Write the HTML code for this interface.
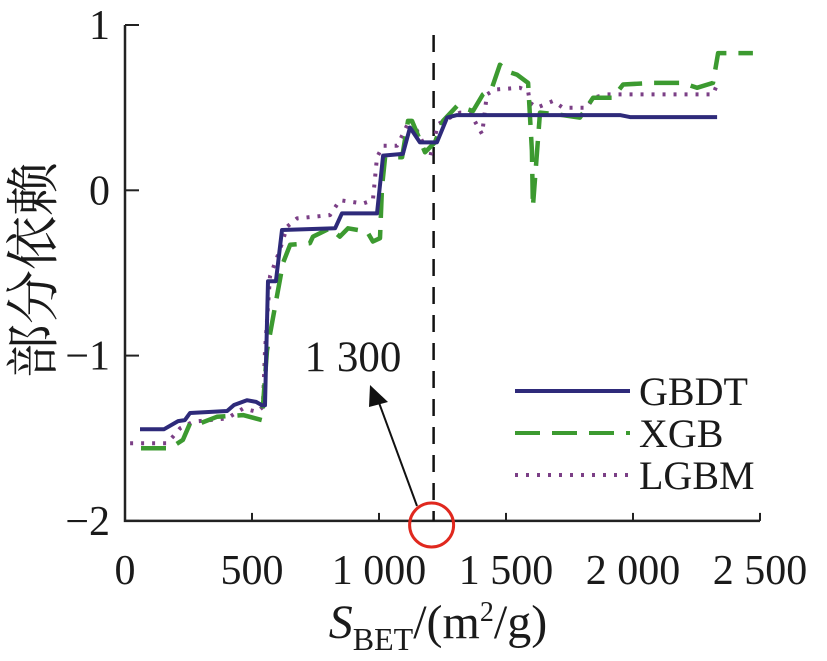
<!DOCTYPE html>
<html><head><meta charset="utf-8"><style>
html,body{margin:0;padding:0;background:#fff;width:827px;height:661px;overflow:hidden}
text{font-family:"Liberation Serif","Noto Serif CJK SC",serif;fill:#1a1a1a}
</style></head><body>
<svg id="chart" width="827" height="661" viewBox="0 0 827 661" xmlns="http://www.w3.org/2000/svg">
<g id="marks"></g>
</svg>
<script>
const xTicks=[0,500,1000,1500,2000,2500];
const xTickLabels=["0","500","1 000","1 500","2 000","2 500"];
const yTicks=[1,0,-1,-2];
const yTickLabels=["1","0","\u22121","\u22122"];
const gbdtX=[59,154,209,236,256,402,429,480,516,539,551,563,594,618,827,854,992,1016,1094,1122,1161,1228,1268,1307,1949,1988,2331];
const gbdtY=[-1.445,-1.445,-1.396,-1.39,-1.347,-1.335,-1.299,-1.27,-1.28,-1.3,-1.3,-0.55,-0.55,-0.24,-0.23,-0.14,-0.14,0.21,0.22,0.38,0.29,0.29,0.44,0.455,0.455,0.443,0.443];
const xgbX=[63,177,228,256,295,362,465,539,559,622,650,728,740,807,846,878,953,976,1004,1012,1024,1091,1114,1130,1181,1220,1252,1307,1370,1409,1445,1476,1504,1543,1587,1602,1606,1622,1634,1701,1791,1843,1921,1961,2079,2197,2252,2315,2335,2472];
const xgbY=[-1.56,-1.56,-1.51,-1.41,-1.41,-1.37,-1.36,-1.39,-0.97,-0.44,-0.33,-0.32,-0.28,-0.23,-0.28,-0.23,-0.25,-0.31,-0.29,0.02,0.2,0.2,0.42,0.42,0.23,0.29,0.42,0.51,0.48,0.58,0.62,0.76,0.72,0.7,0.65,0.24,-0.1,0.23,0.47,0.46,0.44,0.56,0.56,0.64,0.65,0.65,0.62,0.65,0.83,0.83];
const lgbmX=[20,165,189,217,268,402,465,520,543,551,571,610,638,677,807,846,937,976,992,1016,1071,1094,1122,1150,1201,1232,1280,1319,1358,1406,1425,1457,1555,1587,1594,1622,1685,1724,1819,1843,1898,2315,2331];
const lgbmY=[-1.53,-1.53,-1.49,-1.44,-1.4,-1.38,-1.32,-1.34,-1.31,-0.97,-0.52,-0.36,-0.22,-0.17,-0.15,-0.06,-0.08,-0.06,0.2,0.27,0.27,0.34,0.43,0.36,0.2,0.4,0.44,0.47,0.47,0.34,0.58,0.61,0.62,0.6,0.53,0.5,0.54,0.5,0.5,0.56,0.58,0.58,0.64];
const markerX=1215;

const NS="http://www.w3.org/2000/svg";
const g=document.getElementById('marks');
const X0=125,KX=0.254,Y0=190.3,KY=165.3;
function sx(v){return X0+v*KX;}
function sy(v){return Y0-v*KY;}
function mk(tag,attrs){const e=document.createElementNS(NS,tag);for(const k in attrs)e.setAttribute(k,attrs[k]);g.appendChild(e);return e;}

let ax=mk('path',{d:`M${sx(0)},${sy(1)} V${sy(-2)} H${sx(2500)}`,fill:'none',stroke:'#222','stroke-width':2.5});


xTicks.forEach((v,i)=>{
  const t=mk('line',{x1:sx(v),x2:sx(v),y1:sy(-2),y2:sy(-2)-8,stroke:'#222','stroke-width':2});
  
  
  const l=mk('text',{x:sx(v),y:584,'font-size':42,'text-anchor':'middle'});l.textContent=xTickLabels[i];
  
  
});
yTicks.forEach((v,i)=>{
  const t=mk('line',{x1:sx(0),x2:sx(0)+14,y1:sy(v),y2:sy(v),stroke:'#222','stroke-width':2});
  
  
  const l=mk('text',{x:110,y:sy(v)+14,'font-size':42,'text-anchor':'end'});l.textContent=yTickLabels[i];
  
  
});
let vl=mk('line',{x1:sx(markerX),x2:sx(markerX),y1:35,y2:sy(-2),stroke:'#111','stroke-width':2.5,'stroke-dasharray':'17 11'});



function series(xs,ys,color,dash,w,name){
  const d=xs.map((x,i)=>(i?'L':'M')+sx(x).toFixed(1)+','+sy(ys[i]).toFixed(1)).join(' ');
  const p=mk('path',{d,fill:'none',stroke:color,'stroke-width':w,'stroke-dasharray':dash,'stroke-linejoin':'round'});
  
  
}
series(lgbmX,lgbmY,'#7b3f86','3 8',4,'lgbm-line');
series(xgbX,xgbY,'#3c9a30','25 12',4.5,'xgb-line');
series(gbdtX,gbdtY,'#2e2a7a','none',4,'gbdt-line');

let c=mk('circle',{cx:sx(markerX)-2,cy:525,r:22,fill:'none',stroke:'#e0281e','stroke-width':3});


let ar=mk('line',{x1:417,y1:506,x2:378,y2:400,stroke:'#111','stroke-width':2});


let ah=mk('polygon',{points:'370,385 388,402 369,407',fill:'#111'});


let at=mk('text',{x:353,y:371,'font-size':43,'text-anchor':'middle'});at.textContent='1 300';



const legNames=['GBDT','XGB','LGBM'],legColors=['#2e2a7a','#3c9a30','#7b3f86'],legDash=['none','25 12','3 8'];
legNames.forEach((n,i)=>{
  const y=391+i*42;
  const l=mk('line',{x1:515,x2:630,y1:y,y2:y,stroke:legColors[i],'stroke-width':4,'stroke-dasharray':legDash[i]});
  
  
  const t=mk('text',{x:639,y:y+14,'font-size':40});t.textContent=n;
  
  
});

let yt=mk('text',{x:0,y:0,'font-size':54,'text-anchor':'middle',transform:'translate(52,270) rotate(-90)'});
yt.textContent='部分依赖';


let xt=mk('text',{x:438,y:638,'font-size':48,'text-anchor':'middle'});
xt.innerHTML='<tspan font-style="italic">S</tspan><tspan font-size="32" dy="12">BET</tspan><tspan dy="-12">/(m</tspan><tspan font-size="28" dy="-17">2</tspan><tspan dy="17">/g)</tspan>';


</script>
</body></html>
